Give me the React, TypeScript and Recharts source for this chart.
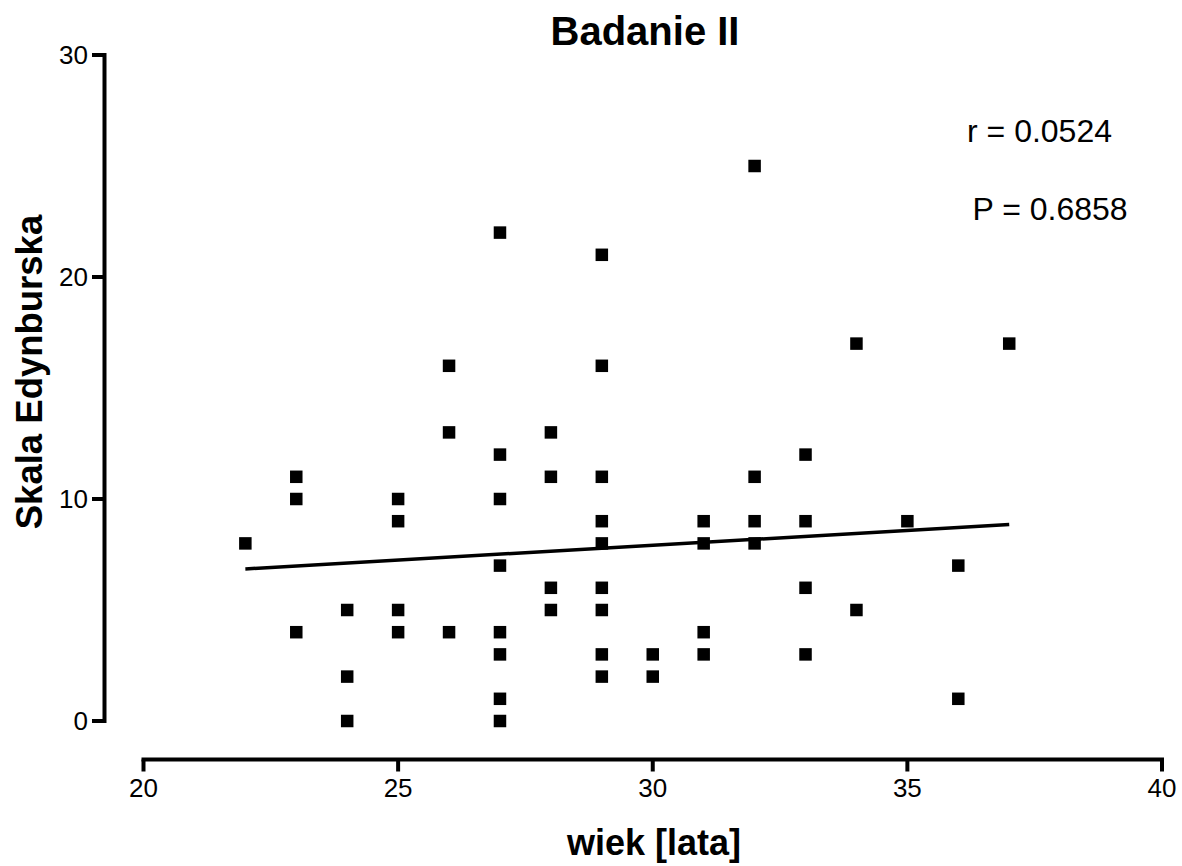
import {
  ReferenceLine,
  Scatter,
  ScatterChart,
  XAxis,
  YAxis,
} from "recharts";

// Ages and Edinburgh scale scores, grouped per age
const AGES = [22, 23, 24, 25, 26, 27, 28, 29, 30, 31, 32, 33, 34, 35, 36, 37];
const SCORES_BY_AGE = [
  [8],
  [11, 10, 4],
  [5, 2, 0],
  [10, 9, 5, 4],
  [16, 13, 4],
  [22, 12, 10, 7, 4, 3, 1, 0],
  [13, 11, 6, 5],
  [21, 16, 11, 9, 8, 6, 5, 3, 2],
  [3, 2],
  [9, 8, 4, 3],
  [25, 11, 9, 8],
  [12, 9, 6, 3],
  [17, 5],
  [9],
  [7, 1],
  [17],
];

// Linear fit endpoints
const FIT_X = [22, 37];
const FIT_Y = [6.85, 8.85];

const X_TICKS = [20, 25, 30, 35, 40];
const Y_TICKS = [0, 10, 20, 30];

const TITLE = "Badanie II";
const X_LABEL = "wiek [lata]";
const Y_LABEL = "Skala Edynburska";
const STATS = ["r = 0.0524", "P = 0.6858"];

const FONT = "'Liberation Sans', Arial, Helvetica, sans-serif";
const MARK = 12.5;
// axes sit detached from the plot area, Prism style
const X_SHIFT = 38.5;
const Y_SHIFT = 39;

const points = AGES.flatMap((age, i) =>
  SCORES_BY_AGE[i].map((score) => ({ age, score }))
);

function SquareMark(props: any) {
  const { cx, cy } = props;
  if (cx == null || cy == null) return null;
  return <rect x={cx - MARK / 2} y={cy - MARK / 2} width={MARK} height={MARK} fill="#000" />;
}

export default function App() {
  return (
    <div style={{ position: "absolute", left: 0, top: 0, width: 1182, height: 866, background: "#fff" }}>
      <style>{`
        .axis-x-shift .recharts-cartesian-axis-line,
        .axis-x-shift .recharts-cartesian-axis-tick-line { transform: translateY(${X_SHIFT}px); }
        .axis-y-shift .recharts-cartesian-axis-line,
        .axis-y-shift .recharts-cartesian-axis-tick-line { transform: translateX(-${Y_SHIFT}px); }
      `}</style>
      <ScatterChart
        width={1182}
        height={866}
        margin={{ top: 55, right: 20, bottom: 105, left: 83.5 }}
        style={{ fontFamily: FONT }}
      >
        <XAxis
          type="number"
          dataKey="age"
          domain={[20, 40]}
          ticks={X_TICKS}
          height={40}
          className="axis-x-shift"
          axisLine={{ stroke: "#000", strokeWidth: 4, strokeLinecap: "square" }}
          tickLine={{ stroke: "#000", strokeWidth: 4 }}
          tickSize={12}
          tickMargin={7 + X_SHIFT}
          tick={{ fill: "#000", fontSize: 26, fontFamily: FONT }}
        />
        <YAxis
          type="number"
          dataKey="score"
          domain={[0, 30]}
          ticks={Y_TICKS}
          width={60}
          className="axis-y-shift"
          axisLine={{ stroke: "#000", strokeWidth: 4, strokeLinecap: "square" }}
          tickLine={{ stroke: "#000", strokeWidth: 4 }}
          tickSize={12.5}
          tickMargin={4 + Y_SHIFT}
          tick={{ fill: "#000", fontSize: 26, fontFamily: FONT }}
        />
        <ReferenceLine
          segment={[
            { x: FIT_X[0], y: FIT_Y[0] },
            { x: FIT_X[1], y: FIT_Y[1] },
          ]}
          stroke="#000"
          strokeWidth={3.5}
          ifOverflow="visible"
        />
        <Scatter data={points} shape={<SquareMark />} fill="#000" isAnimationActive={false} />
      </ScatterChart>

      <svg
        width={1182}
        height={866}
        style={{ position: "absolute", left: 0, top: 0, pointerEvents: "none", fontFamily: FONT }}
      >
        <text x={645} y={45} textAnchor="middle" fontSize={40} fontWeight="bold" fill="#000">
          {TITLE}
        </text>
        <text x={654} y={855} textAnchor="middle" fontSize={36} fontWeight="bold" fill="#000">
          {X_LABEL}
        </text>
        <text
          x={0}
          y={0}
          transform="translate(41.5 372) rotate(-90)"
          textAnchor="middle"
          fontSize={36.5}
          fontWeight="bold"
          fill="#000"
        >
          {Y_LABEL}
        </text>
        <text x={967} y={142} fontSize={32} fill="#000">
          {STATS[0]}
        </text>
        <text x={972.5} y={220} fontSize={32} fill="#000">
          {STATS[1]}
        </text>
      </svg>
    </div>
  );
}
